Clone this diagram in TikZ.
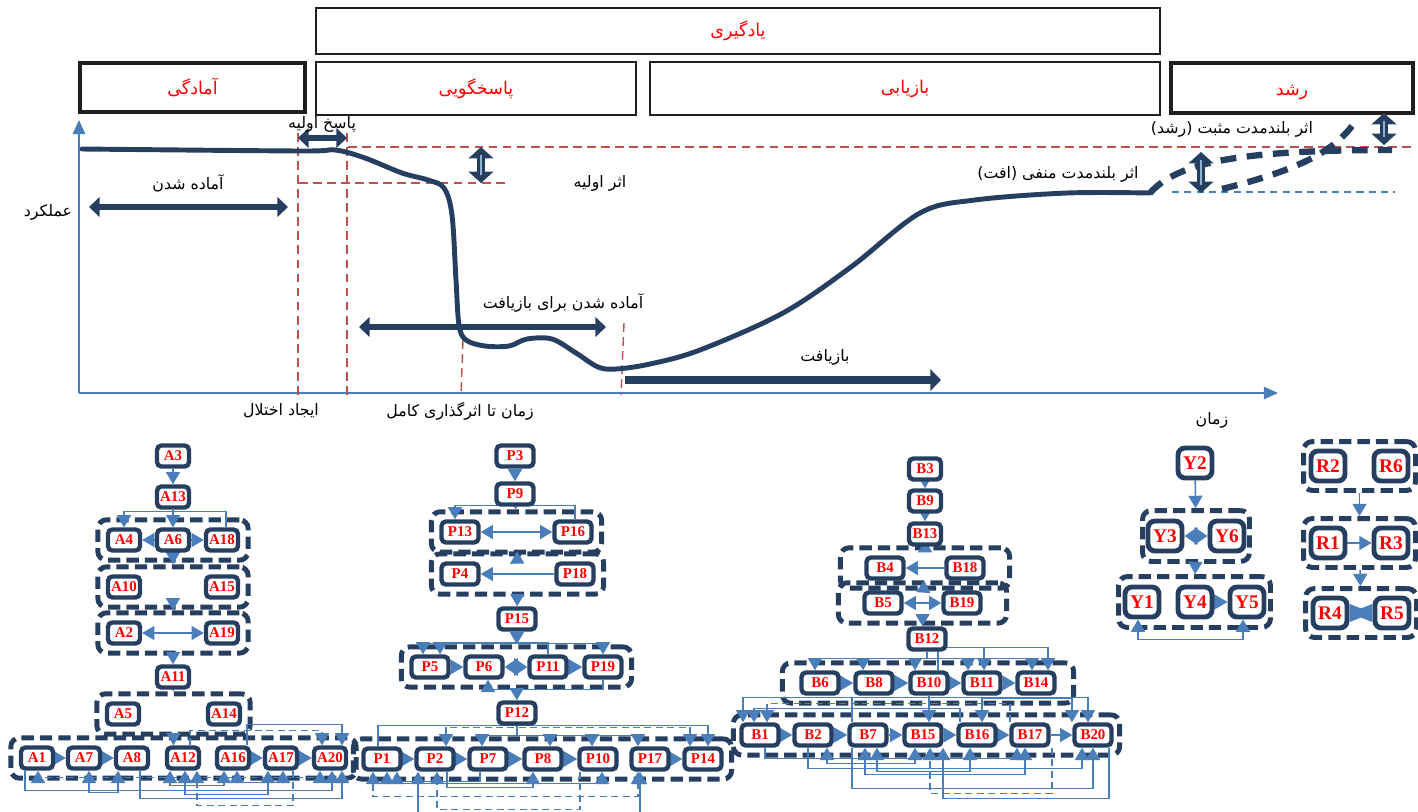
\documentclass[tikz,border=0pt]{standalone}
\usepackage{fontspec}
\setmainfont{Liberation Serif}
\newfontfamily\farsi[Script=Arabic]{DejaVu Sans}
\TeXXeTstate=1
\usetikzlibrary{arrows.meta,calc,fit}
\definecolor{navy}{RGB}{38,63,96}
\definecolor{steel}{RGB}{74,126,187}
\definecolor{rdash}{RGB}{192,80,77}
\newcommand{\fa}[1]{{\farsi\beginR#1\endR}}
\pgfdeclarelayer{grp}
\pgfdeclarelayer{wires}
\pgfsetlayers{grp,wires,main}
\tikzset{
  phase/.style={draw=black!88, line width=1.1pt, inner sep=0pt},
  thickphase/.style={phase, line width=2.6pt},
  phasetxt/.style={text=red, font=\fontsize{10}{10}\selectfont, inner sep=0pt},
  lbl/.style={font=\fontsize{9}{9}\selectfont, inner sep=1pt},
  curve/.style={navy, line width=2.8pt, line cap=round},
  span/.style={navy, line width=3.4pt, {Triangle[length=6pt,width=11pt]}-{Triangle[length=6pt,width=11pt]}},
  vspan/.style={navy, line width=4pt, {Triangle[length=6.5pt,width=14pt]}-{Triangle[length=6.5pt,width=14pt]}},
  nd/.style={draw=navy, line width=2.5pt, rounded corners=2.5pt, fill=white, text=red,
    font=\bfseries\fontsize{8.5}{8.5}\selectfont, inner sep=0.5pt, minimum width=0.64cm, minimum height=0.42cm},
  ndw/.style={nd, minimum width=0.74cm},
  ndb/.style={nd, line width=2.8pt, rounded corners=4pt, minimum width=0.68cm, minimum height=0.6cm,
    font=\bfseries\fontsize{11}{11}\selectfont},
  grp/.style={draw=navy, line width=2.8pt, dash pattern=on 7pt off 3.5pt, rounded corners=5pt,
    inner xsep=0.16cm, inner ysep=0.15cm},
  arr/.style={steel, line width=0.9pt, -{Triangle[length=7pt,width=8pt]}},
  dbl/.style={steel, line width=0.9pt, {Triangle[length=7pt,width=8pt]}-{Triangle[length=7pt,width=8pt]}},
  bow/.style={steel, line width=0.9pt, {Triangle[length=8pt,width=9pt]}-{Triangle[length=8pt,width=9pt]}},
  bigbow/.style={steel, line width=0.9pt, {Triangle[length=13pt,width=10pt]}-{Triangle[length=13pt,width=10pt]}},
  dia/.style={steel, line width=0.9pt, {Triangle[length=7.5pt,width=10pt]}-{Triangle[length=7.5pt,width=10pt]}},
  dsh/.style={dash pattern=on 4pt off 2.5pt}
}
\begin{document}
\begin{tikzpicture}[x=0.02cm, y=-0.02cm]
\useasboundingbox (0,0) rectangle (1418,812);
% phases
\node[phase, fit={(316,8) (1160,54)}] (learn) {};
\node[thickphase, fit={(80,63) (305,112)}] (prep) {};
\node[phase, fit={(316,62) (636,115)}] (resp) {};
\node[phase, fit={(650,62) (1160,115)}] (recov) {};
\node[thickphase, fit={(1171,63) (1413,113)}] (grow) {};
\node[phasetxt] at (learn) {\fa{یادگیری}};
\node[phasetxt] at (prep) {\fa{آمادگی}};
\node[phasetxt] at (resp) {\fa{پاسخگویی}};
\node[phasetxt] at (recov) {\fa{بازیابی}};
\node[phasetxt] at ($(grow)+(0,4)$) {\fa{رشد}};
% axes
\coordinate (origin) at (79,393);
\draw[steel, line width=1.1pt, -{Triangle[length=8pt,width=7pt]}] (origin) -- (79,120);
\draw[steel, line width=1.1pt, -{Triangle[length=8pt,width=7pt]}] (origin) -- (1278,393);
% guide lines
\begin{scope}[rdash, line width=0.8pt, dash pattern=on 5pt off 3pt]
\draw (348,147) -- (1412,147);
\draw (299,183) -- (505,183);
\draw (298,133) -- (298,395);
\draw (347,133) -- (347,395);
\draw (463,340) -- (461,395);
\draw (624,323) -- (621,395);
\end{scope}
\draw[steel, line width=0.9pt, dash pattern=on 4pt off 3pt] (1172,192) -- (1395,192);
% performance curve
\draw[curve] plot[smooth, tension=0.55] coordinates {(82,149) (300,151) (335,150) (365,158) (402,173)
  (428,180) (444,188) (452,215) (456,280) (459,325) (466,340) (485,346) (509,346) (527,339) (552,339)
  (576,353) (598,367) (616,369) (650,364) (700,350) (783,313) (851,267) (920,213) (975,200) (1067,193) (1150,193)};
\draw[navy, line width=3.6pt, dash pattern=on 9pt off 6pt] (1150,193) .. controls (1178,162) and (1240,150) .. (1392,150);
\draw[navy, line width=3.6pt, dash pattern=on 9pt off 6pt] (1222,189) .. controls (1290,172) and (1330,155) .. (1352,126);
% spans
\draw[span] (89,207) -- (288,207);
\draw[span, line width=3pt] (298,138) -- (347,138);
\draw[span] (359,327) -- (606,327);
\draw[navy, line width=5pt, -{Triangle[length=6pt,width=12pt]}] (625,380) -- (941,380);
\foreach \x/\a/\b in {481/147/183, 1201/152/193, 1384/113/145} {
  \draw[vspan] (\x,\a) -- (\x,\b);
  \draw[steel!60, line width=0.6pt] (\x,\a+8) -- (\x,\b-8);
}
% labels
\node[lbl] (perf) at (48,212) {\fa{عملکرد}};
\node[lbl] (ready) at (188,183) {\fa{آماده شدن}};
\node[lbl] (first) at (322,124) {\fa{پاسخ اولیه}};
\node[lbl] (impact) at (600,183) {\fa{اثر اولیه}};
\node[lbl] (readyrec) at (563,303) {\fa{آماده شدن برای بازیافت}};
\node[lbl] (rec) at (825,357) {\fa{بازیافت}};
\node[lbl] (shock) at (281,411) {\fa{ایجاد اختلال}};
\node[lbl] (full) at (460,411) {\fa{زمان تا اثرگذاری کامل}};
\node[lbl] (time) at (1212,420) {\fa{زمان}};
\node[lbl] (pos) at (1232,129) {\fa{اثر بلندمدت مثبت (رشد)}};
\node[lbl] (neg) at (1058,174) {\fa{اثر بلندمدت منفی (افت)}};

% A cluster
\node[nd] (A3) at (173,456) {A3};
\node[nd] (A13) at (173,497) {A13};
\node[nd] (A4) at (124,540) {A4};
\node[nd] (A6) at (173,540) {A6};
\node[nd] (A18) at (222,540) {A18};
\node[nd] (A10) at (124,587) {A10};
\node[nd] (A15) at (222,587) {A15};
\node[nd] (A2) at (124,633) {A2};
\node[nd] (A19) at (222,633) {A19};
\node[nd] (A11) at (173,677) {A11};
\node[nd] (A5) at (123,714) {A5};
\node[nd] (A14) at (224,714) {A14};
\foreach \n/\x in {1/37,7/84,8/132,12/183,16/233,17/281,20/330}
  \node[nd] (A\n) at (\x,758) {A\n};
% P cluster
\node[ndw] (P3) at (515,456) {P3};
\node[ndw] (P9) at (515,494) {P9};
\node[ndw] (P13) at (460,532) {P13};
\node[ndw] (P16) at (573,532) {P16};
\node[ndw] (P4) at (460,574) {P4};
\node[ndw] (P18) at (575,574) {P18};
\node[ndw] (P15) at (517,619) {P15};
\foreach \n/\x in {5/430,6/484,11/548,19/603}
  \node[ndw] (P\n) at (\x,667) {P\n};
\node[ndw] (P12) at (517,713) {P12};
\foreach \n/\x in {1/382,2/435,7/488,8/543,10/598,17/650,14/703}
  \node[ndw] (P\n) at (\x,759) {P\n};
% B cluster
\node[nd] (B3) at (925,469) {B3};
\node[nd] (B9) at (925,501) {B9};
\node[nd] (B13) at (925,534) {B13};
\node[ndw] (B4) at (885,568) {B4};
\node[ndw] (B18) at (965,568) {B18};
\node[ndw] (B5) at (883,603) {B5};
\node[ndw] (B19) at (962,603) {B19};
\node[ndw] (B12) at (927,639) {B12};
\foreach \n/\x in {6/820,8/874,10/929,11/982,14/1036}
  \node[ndw] (B\n) at (\x,683) {B\n};
\foreach \n/\x in {1/760,2/813,7/868,15/923,16/977,17/1030,20/1093}
  \node[ndw] (B\n) at (\x,735) {B\n};
% Y and R clusters
\node[ndb] (Y2) at (1195,463) {Y2};
\node[ndb] (Y3) at (1165,536) {Y3};
\node[ndb] (Y6) at (1227,536) {Y6};
\foreach \n/\x in {1/1142,4/1195,5/1247}
  \node[ndb] (Y\n) at (\x,602) {Y\n};
\node[ndb] (R2) at (1328,466) {R2};
\node[ndb] (R6) at (1391,466) {R6};
\node[ndb] (R1) at (1328,543) {R1};
\node[ndb] (R3) at (1391,543) {R3};
\node[ndb] (R4) at (1330,613) {R4};
\node[ndb] (R5) at (1392,613) {R5};

% groups
\begin{pgfonlayer}{grp}
\node[grp, fit=(A4)(A18)] (gA1) {};
\node[grp, fit=(A10)(A15)] (gA2) {};
\node[grp, fit=(A2)(A19)] (gA3) {};
\node[grp, fit=(A5)(A14)] (gA4) {};
\node[grp, fit=(A1)(A20)] (gA5) {};
\node[grp, fit=(P13)(P16)] (gP1) {};
\node[grp, fit=(P4)(P18)] (gP2) {};
\node[grp, fit=(P5)(P19)] (gP3) {};
\node[grp, fit=(P1)(P14)] (gP4) {};
\node[grp, fit=(B4)(B18), inner xsep=0.48cm] (gB1) {};
\node[grp, fit=(B5)(B19), inner xsep=0.48cm] (gB2) {};
\node[grp, fit=(B6)(B14), inner xsep=0.34cm] (gB3) {};
\node[grp, fit=(B1)(B20), inner xsep=0.12cm] (gB4) {};
\node[grp, fit=(Y3)(Y6), inner xsep=0.06cm, inner ysep=0.16cm] (gY1) {};
\node[grp, fit=(Y1)(Y5), inner xsep=0.08cm, inner ysep=0.16cm] (gY2) {};
\node[grp, fit=(R2)(R6), inner xsep=0.1cm, inner ysep=0.14cm] (gR1) {};
\node[grp, fit=(R1)(R3), inner xsep=0.1cm, inner ysep=0.14cm] (gR2) {};
\node[grp, fit=(R4)(R5), inner xsep=0.1cm, inner ysep=0.14cm] (gR3) {};
\end{pgfonlayer}

\begin{pgfonlayer}{wires}
% A links
\draw[arr] (A3) -- (A13);
\draw[arr] (A13) -- (A6);
\draw[arr] ($(A18.north)+(4,0)$) -- ++(0,-16) -| (A4.north);
\draw[arr] (A6) -- (A4);
\draw[arr] (A6) -- (A18);
\draw[arr] (gA1) -- (gA2);
\draw[arr] (gA2) -- (gA3);
\draw[dbl] (A2) -- (A19);
\draw[arr] (gA3) -- (A11);
\draw[arr] (A11) -- (gA4);
\draw[arr] (gA4.south) -- (gA4.south |- A12.north);
\draw[bow] (A1) -- (A7);
\draw[bow] (A7) -- (A8);
\draw[arr] (A16) -- (A17);
\draw[bow] (A17) -- (A20);
\draw[arr, dsh] ($(A12.north)+(7,0)$) -- ++(0,-15) -| ($(A20.north)+(-8,0)$);
\draw[arr] ($(A16.north)+(14,0)$) -- ++(0,-21) -| ($(A20.north)+(12,0)$);
\draw[arr] ($(A1.south)+(-12,0)$) -- ++(0,20) -| ($(A20.south)+(2,0)$);
\draw[dbl, dsh] ($(A1.south)+(1,0)$) -- ++(0,7) -| ($(A20.south)+(-10,0)$);
\draw[arr] ($(A8.south)+(8,0)$) -- ++(0,28) -| ($(A20.south)+(12,0)$);
\draw[dbl] ($(A7.south)+(5,0)$) -- ++(0,22) -| ($(A8.south)+(-14,0)$);
\draw[arr, dsh] ($(A17.south)+(12,0)$) -- ++(0,35) -| ($(A12.south)+(14,0)$);
\draw[dbl] ($(A12.south)+(-13,0)$) -- ++(0,15) -| ($(A16.south)+(-9,0)$);
\draw[dbl] ($(A12.south)+(2,0)$) -- ++(0,24) -| ($(A17.south)+(-13,0)$);
\draw[dbl] ($(A16.south)+(4,0)$) -- ++(0,12) -| ($(A17.south)+(2,0)$);
% P links
\draw[arr] (P3) -- (P9);
\draw[arr] (P9) -- (gP1);
\draw[arr] ($(P16.north)+(2,0)$) -- ++(0,-14) -| ($(P13.north)+(-5,0)$);
\draw[dbl] (P13) -- (P16);
\draw[arr] (gP1) -- (gP2);
\draw[arr] (P18) -- (P4);
\draw[arr] (gP2) -- (P15);
\draw[arr] (P15) -- (gP3);
\draw[arr] (P15.south) -- ++(0,12) -| ($(P5.north)+(-7,0)$);
\draw[arr] (P15.south) -- ++(0,12) -| (P19.north);
\draw[arr] (P11.north) -- ++(0,-12) -| ($(P5.north)+(10,0)$);
\draw[arr] (P5) -- (P6);
\draw[dia] (P6) -- (P11);
\draw[bow] (P11) -- (P19);
\draw[arr] (P19.south) -- ++(0,10) -| ($(P6.south)+(4,0)$);
\draw[arr] (gP3) -- (P12);
\draw[arr] ($(P1.north)+(-4,0)$) -- ++(0,-21) -| ($(P14.north)+(5,0)$);
\draw[dbl, dsh] ($(P2.north)+(11,0)$) -- ++(0,-19) -| ($(P14.north)+(-13,0)$);
\foreach \t/\dx in {P7/-6,P8/7,P10/-6,P17/-12}
  \draw[arr] (P12.south) -- ++(0,10) -| ($(\t.north)+(\dx,0)$);
\foreach \a/\b in {P1/P2,P2/P7,P7/P8,P8/P10}
  \draw[bow] (\a) -- (\b);
\draw[arr] (P17) -- (P14);
\draw[dbl] ($(P1.south)+(5,0)$) -- ++(0,12) -| ($(P10.south)+(4,0)$);
\draw[dbl, dsh] ($(P1.south)+(-9,0)$) -- ++(0,25) -| ($(P17.south)+(-12,0)$);
\draw[arr] ($(P7.south)+(-8,0)$) -- ++(0,10) -| ($(P1.south)+(15,0)$);
\draw[arr, dsh] ($(P10.south)+(-18,0)$) -- ++(0,38) -| ($(P2.south)+(2,0)$);
\draw[arr] ($(P2.south)+(12,0)$) -- ++(0,16) -| ($(P8.south)+(-10,0)$);
\coordinate (pinA) at (418,812);
\coordinate (pinB) at (640,812);
\draw[arr] (pinA) -- (pinA |- P2.south);
\draw[arr] (pinB) -- (pinB |- P17.south);
% B links
\draw[arr] (B3) -- (B9);
\draw[arr] (B9) -- (B13);
\draw[arr, shorten >=-3pt] (B13) -- (gB1);
\draw[arr] (B18) -- (B4);
\draw[arr] (gB1) -- (gB2);
\draw[dbl] (B5) -- (B19);
\draw[arr] (gB2.south) -- (gB2.south |- B12.north);
\foreach \t/\dx in {B6/-5,B8/-11,B10/-14,B11/-14,B14/-4}
  \draw[arr] (B12.south) -- ++(0,7) -| ($(\t.north)+(\dx,0)$);
\draw[arr] ($(B10.north)+(9,0)$) -- ++(0,-23) -| ($(B14.north)+(12,0)$);
\draw[arr] ($(B10.north)+(9,0)$) -- ++(0,-23) -| ($(B11.north)+(2,0)$);
\draw[bow] (B6) -- (B8);
\draw[bow] (B8) -- (B10);
\draw[arr] (B10) -- (B11);
\draw[arr] (B11) -- (B14);
\draw[arr] ($(B7.north)+(-16,0)$) -- ++(0,-25) -| ($(B1.north)+(-17,0)$);
\draw[arr] ($(B7.north)+(-16,0)$) -- ++(0,-25) -| ($(B20.north)+(-5,0)$);
\draw[arr, dsh] ($(B17.north)+(-20,0)$) -- ++(0,-19) -| ($(B1.north)+(7,0)$);
\draw[arr] ($(B16.north)+(-17,0)$) -- ++(0,-14) -| ($(B1.north)+(-6,0)$);
\draw[arr] (B10.south) -- (B10.south |- B15.north);
\draw[dbl] ($(B16.north)+(5,0)$) -- ++(0,-24) -| ($(B20.north)+(-21,0)$);
\draw[bow] (B1) -- (B2);
\draw[bow] (B2) -- (B7);
\foreach \a/\b in {B7/B15,B15/B16,B16/B17,B17/B20}
  \draw[arr] (\a) -- (\b);
\draw[arr] ($(B1.south)+(5,0)$) -- ++(0,11) -| ($(B17.south)+(-13,0)$);
\draw[arr] ($(B2.south)+(-5,0)$) -- ++(0,21) -| ($(B20.south)+(-11,0)$);
\draw[dbl] ($(B2.south)+(14,0)$) -- ++(0,16) -| ($(B15.south)+(-8,0)$);
\draw[dbl] ($(B7.south)+(-3,0)$) -- ++(0,27) -| ($(B17.south)+(-5,0)$);
\draw[dbl] ($(B7.south)+(9,0)$) -- ++(0,24) -| ($(B16.south)+(-7,0)$);
\draw[arr] ($(B7.south)+(-16,0)$) -- ++(0,41) -| (B20.south);
\draw[arr, dsh] ($(B17.south)+(22,0)$) -- ++(0,46) -| ($(B15.south)+(7,0)$);
\draw[arr] ($(B20.south)+(16,0)$) -- ++(0,51) -| ($(B15.south)+(20,0)$);
% Y and R links
\draw[arr] (Y2) -- (gY1);
\draw[dia] (Y3) -- (Y6);
\draw[arr] (gY1) -- (gY2);
\draw[bow] (Y4) -- (Y5);
\draw[dbl] ($(Y1.south)+(-4,0)$) -- ++(0,20) -| ($(Y5.south)+(-4,0)$);
\draw[arr] (gR1) -- (gR2);
\draw[arr] (R1) -- (R3);
\draw[arr] (gR2) -- (gR3);
\draw[bigbow] (R4) -- (R5);
\end{pgfonlayer}
\end{tikzpicture}
\end{document}
